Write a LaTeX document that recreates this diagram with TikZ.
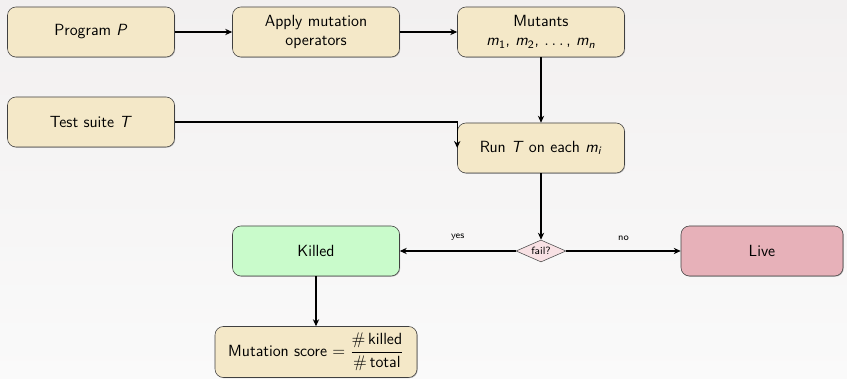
\documentclass[tikz,border=0pt]{standalone}
\usepackage{amsmath}
\usepackage{tikz}
\usetikzlibrary{arrows.meta,shapes.geometric,shadows}
\definecolor{boxfill}{HTML}{F4E8C8}
\definecolor{killfill}{HTML}{C9FBCB}
\definecolor{livefill}{HTML}{E7B1B9}
\definecolor{failfill}{HTML}{F8E1E4}
\definecolor{bgtop}{HTML}{F2F0F0}
\definecolor{bgbottom}{HTML}{FAFAFA}
\newcommand{\vn}[1]{\textit{#1}}
\newcommand{\vsub}[2]{\textit{#1}\textsubscript{#2}}
\tikzset{
  stage/.style={draw=black!75, fill=boxfill, rounded corners=6pt, thin,
    minimum width=4.175cm, minimum height=1.25cm, align=center,
    font=\fontsize{11.5}{13.5}\selectfont\sffamily,
    drop shadow={shadow xshift=0.5pt, shadow yshift=-0.5pt, opacity=0.6}},
  check/.style={draw=black!70, fill=failfill, diamond, aspect=2.3, inner sep=1pt,
    minimum width=1.25cm, minimum height=0.55cm,
    font=\fontsize{7.5}{8}\selectfont\sffamily},
  flow/.style={thick, -{Stealth[length=5pt,width=4.5pt]}},
  tag/.style={font=\fontsize{7}{8}\selectfont\sffamily}
}
\begin{document}
\begin{tikzpicture}
			%%%%% BACKGROUND %%%%%
			\useasboundingbox (0, 0) rectangle (21.175, 9.475);
			\shade[top color=bgtop, bottom color=bgbottom] (0, 0) rectangle (21.175, 9.475);
			
			%%%%% STAGES %%%%%
			\node[stage] (prog) at (2.275, 8.675) {Program \vn{P}};
			\node[stage] (apply) at (7.9, 8.675) {Apply mutation\\operators};
			\node[stage] (mut) at (13.525, 8.675) {Mutants\\\vsub{m}{1}, \vsub{m}{2}, $\ldots$\,, \vsub{m}{\textit{n}}};
			
			\node[stage] (suite) at (2.275, 6.425) {Test suite \vn{T}};
			\node[stage] (run) at (13.525, 5.775) {Run \vn{T} on each \vsub{m}{\textit{i}}};
			
			\node[check] (fail) at (13.525, 3.2) {fail?};
			\node[stage, fill=killfill] (killed) at (7.9, 3.2) {Killed};
			\node[stage, fill=livefill, minimum width=4.05cm] (live) at (19.05, 3.2) {Live};
			
			\node[stage, minimum width=5.05cm, minimum height=1.275cm, inner sep=2pt] (score) at (7.9, 0.675)
				{Mutation score $= \dfrac{\#\,\mbox{killed}}{\#\,\mbox{total}}$};
			
			%%%%% ARROWS %%%%%
			\draw[flow] (prog) -- (apply);
			\draw[flow] (apply) -- (mut);
			\draw[flow] (mut) -- (run);
			\draw[flow] (suite.east) -| (run.west);
			\draw[flow] (run) -- (fail);
			\draw[flow] (fail) -- node[tag, above=4pt] {yes} (killed);
			\draw[flow] (fail) -- node[tag, above=4pt] {no} (live);
			\draw[flow] (killed) -- (score);
			
			%%%%% END %%%%%
		\end{tikzpicture}
\end{document}
